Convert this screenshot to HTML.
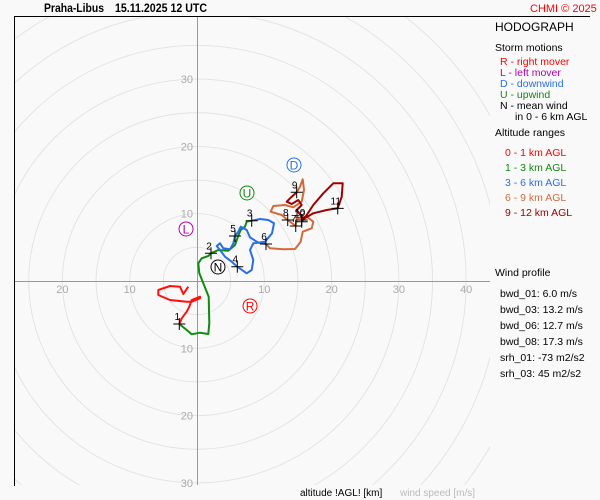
<!DOCTYPE html>
<html><head><meta charset="utf-8"><style>
html,body{margin:0;padding:0;background:#f9f9f9;width:600px;height:500px;overflow:hidden;}
svg{display:block;font-family:"Liberation Sans",sans-serif;}
</style></head><body>
<svg id="chart" width="600" height="500" viewBox="0 0 600 500">
<rect x="0" y="0" width="600" height="500" fill="#f9f9f9"/>
<defs><clipPath id="pc"><rect x="15" y="16" width="475" height="469"/></clipPath></defs>
<g id="grid" clip-path="url(#pc)"></g>
<g id="axes"></g>
<g id="traces" clip-path="url(#pc)"></g>
<g id="marks"></g>
<g id="storms"></g>
<line x1="14.5" y1="16.5" x2="590" y2="16.5" stroke="#000"/>
<line x1="14.5" y1="16" x2="14.5" y2="486" stroke="#000"/>
<text x="44" y="12" font-size="12" font-weight="bold" textLength="60" lengthAdjust="spacingAndGlyphs">Praha-Libus</text>
<text x="115" y="12" font-size="12" font-weight="bold" textLength="92" lengthAdjust="spacingAndGlyphs">15.11.2025 12 UTC</text>
<text x="530" y="12" font-size="11" fill="#ff0000">CHMI © 2025</text>
<g font-size="11">
<text x="495" y="31" font-size="12">HODOGRAPH</text>
<text x="495" y="51" font-size="10.5">Storm motions</text>
<text x="500" y="65" font-size="10.5" fill="#ff0000">R - right mover</text>
<text x="500" y="76" font-size="10.5" fill="#b000b0">L - left mover</text>
<text x="500" y="87" font-size="10.5" fill="#2a6ee6">D - downwind</text>
<text x="500" y="98" font-size="10.5" fill="#108a10">U - upwind</text>
<text x="500" y="109" font-size="10.5">N - mean wind</text>
<text x="515" y="120" font-size="10.5">in 0 - 6 km AGL</text>
<text x="495" y="136" font-size="10.5">Altitude ranges</text>
<text x="505" y="156" font-size="10.5" fill="#ff0000">0 - 1 km AGL</text>
<text x="505" y="171" font-size="10.5" fill="#108a10">1 - 3 km AGL</text>
<text x="505" y="186" font-size="10.5" fill="#2a6ee6">3 - 6 km AGL</text>
<text x="505" y="201" font-size="10.5" fill="#d06a3a">6 - 9 km AGL</text>
<text x="505" y="216" font-size="10.5" fill="#a00000">9 - 12 km AGL</text>
<text x="495" y="276" font-size="10.5">Wind profile</text>
<text x="500" y="297" font-size="10.5">bwd_01: 6.0 m/s</text>
<text x="500" y="313" font-size="10.5">bwd_03: 13.2 m/s</text>
<text x="500" y="329" font-size="10.5">bwd_06: 12.7 m/s</text>
<text x="500" y="345" font-size="10.5">bwd_08: 17.3 m/s</text>
<text x="500" y="361" font-size="10.5">srh_01: -73 m2/s2</text>
<text x="500" y="377" font-size="10.5">srh_03: 45 m2/s2</text>
</g>
<text x="300" y="496" font-size="10">altitude !AGL! [km]</text>
<text x="400" y="496" font-size="10" fill="#bbb">wind speed [m/s]</text>
</svg>
<script>
const ringSpeeds=[5,10,15,20,25,30,35,40,45,50];
const xTicks=[-20,-10,10,20,30,40];
const yTicks=[30,20,10,-10,-20,-30];
const redU=[-1.29,-2.04,-2.53,-4.01,-5.75,-5.75,-4.01,-1.53,-0.79,0.45,0.45,-0.79,-1.14,-1.53,-2.27,-2.63];
const redV=[-0.85,-1.93,-0.85,-0.74,-1.34,-2.08,-2.82,-3.08,-3.08,-2.57,-2.33,-2.82,-3.82,-4.56,-5.54,-6.39];
const greenU=[-2.63,-1.53,-0.79,0.45,1.68,1.83,1.78,1.74,0.94,0.34,0.19,0.70,1.68,2.08,3.17,4.65,5.65,6.05,6.49,7.13,7.38,8.13];
const greenV=[-6.39,-7.28,-7.92,-7.68,-7.88,-6.29,-4.31,-2.33,-0.34,1.14,2.63,3.37,3.71,4.12,4.61,4.50,5.35,6.49,7.58,8.07,8.81,8.96];
const blueU=[8.13,9.36,10.59,11.44,11.14,10.10,8.37,7.88,8.37,8.13,7.38,5.99,5.16,4.16,3.42,2.93,3.42,3.91,4.90,5.39,5.65,6.14,6.49,7.38,7.88,9.11,10.25];
const blueV=[8.96,9.21,9.06,8.57,7.09,5.84,5.60,4.61,3.12,1.63,1.14,2.12,2.87,3.61,4.61,5.20,5.60,4.86,4.71,5.60,6.69,7.33,8.07,7.58,6.49,5.69,5.50];
const orangeU=[10.25,10.85,12.82,14.56,15.41,15.71,17.04,17.28,16.30,14.81,14.67,13.82,13.48,12.59,10.95,11.34,13.08,14.31,15.56,15.90,15.71,15.30,14.81];
const orangeV=[5.50,4.86,4.71,4.75,5.84,7.33,7.83,8.81,9.55,9.32,8.17,8.81,9.06,9.81,10.30,11.14,11.29,10.95,11.78,13.52,15.11,14.01,13.18];
const darkU=[14.81,14.07,13.33,14.07,15.05,15.56,14.81,15.56,15.56,17.28,19.27,20.91,21.50,21.65,20.25,18.77,17.28,16.30,15.56];
const darkV=[13.18,12.53,11.78,11.44,12.04,11.29,10.55,9.55,9.06,10.06,10.55,10.80,12.53,14.52,14.52,13.03,11.29,9.81,8.81];
const markLabels=["1","2","3","4","5","6","7","8","9","10","11","12"];
const markU=[-2.63,2.08,8.13,5.99,5.65,10.25,14.67,13.48,14.81,15.56,20.91,15.56];
const markV=[-6.39,4.12,8.96,2.12,6.69,5.50,8.17,9.06,13.18,9.06,10.80,8.81];
const stormLabels=["R","L","D","U","N"];
const stormU=[7.88,-1.63,14.41,7.43,3.12];
const stormV=[-3.71,7.73,17.24,13.08,2.08];
const stormColors=["#ff0000","#b000b0","#2a6ee6","#108a10","#000"];

const NS="http://www.w3.org/2000/svg";
const CX=197,CY=281,K=6.73;
const sx=u=>CX+u*K, sy=v=>CY-v*K;
function mk(tag,attrs,parent){const e=document.createElementNS(NS,tag);for(const k in attrs)e.setAttribute(k,attrs[k]);parent.appendChild(e);return e;}
const grid=document.getElementById('grid'),axes=document.getElementById('axes'),traces=document.getElementById('traces'),marks=document.getElementById('marks'),storms=document.getElementById('storms');
ringSpeeds.forEach(s=>{const c=mk('circle',{cx:CX,cy:CY,r:s*K,fill:'none',stroke:'#e2e2e2','stroke-width':0.9},grid);

});
const ax=mk('line',{x1:15,y1:CY+.5,x2:490,y2:CY+.5,stroke:'#999'},axes);


const ay=mk('line',{x1:CX+.5,y1:16,x2:CX+.5,y2:485,stroke:'#999'},axes);


xTicks.forEach(t=>{const e=mk('text',{x:sx(t),y:CY+12,'font-size':11,fill:'#aaa','text-anchor':'middle'},axes);e.textContent=Math.abs(t);

});
yTicks.forEach(t=>{const e=mk('text',{x:CX-4,y:sy(t)+4,'font-size':11,fill:'#aaa','text-anchor':'end'},axes);e.textContent=Math.abs(t);

});
function trace(U,V,color,name){const d=U.map((u,i)=>(i?'L':'M')+sx(u).toFixed(1)+','+sy(V[i]).toFixed(1)).join('');
const p=mk('path',{d:d,fill:'none',stroke:color,'stroke-width':2,'stroke-linejoin':'round'},traces);

}
trace(redU,redV,'#ff1010','trace-0-1km');
trace(greenU,greenV,'#108a10','trace-1-3km');
trace(blueU,blueV,'#2a6ee6','trace-3-6km');
trace(orangeU,orangeV,'#d06a3a','trace-6-9km');
trace(darkU,darkV,'#a00000','trace-9-12km');
markLabels.forEach((l,i)=>{const x=sx(markU[i]),y=sy(markV[i]);
const g=mk('g',{},marks);


mk('path',{d:`M${x-6},${y}H${x+6}M${x},${y-6}V${y+6}`,stroke:'#000','stroke-width':1},g);
const t=mk('text',{x:x-2,y:y-4,'font-size':10,'text-anchor':'middle'},g);t.textContent=l;});
stormLabels.forEach((l,i)=>{const x=sx(stormU[i]),y=sy(stormV[i]);
const g=mk('g',{},storms);


mk('circle',{cx:x,cy:y,r:7,fill:'#fff',stroke:stormColors[i],'stroke-width':1},g);
const t=mk('text',{x:x,y:y+4.5,'font-size':12,fill:stormColors[i],'text-anchor':'middle'},g);t.textContent=l;});
</script>
</body></html>
